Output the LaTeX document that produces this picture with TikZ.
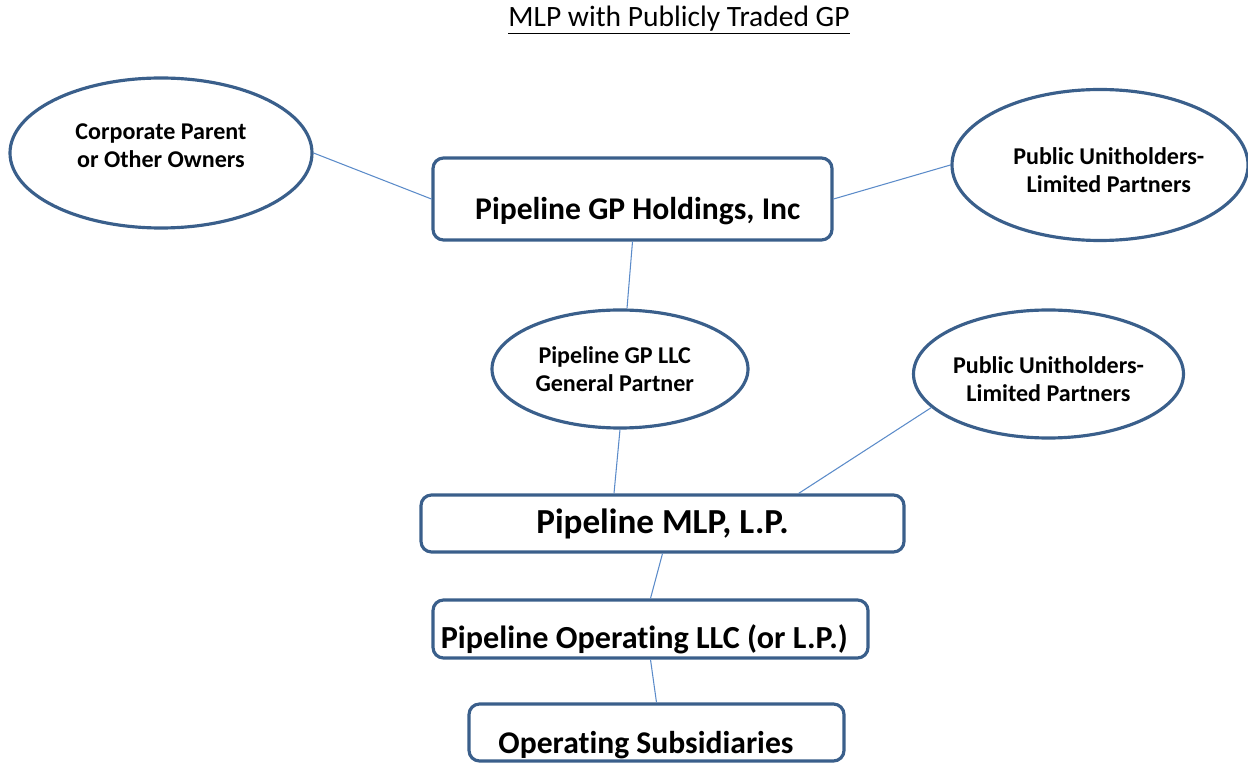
\documentclass[tikz,border=0pt]{standalone}
\usepackage{fontspec}
\setmainfont{Carlito}[Ligatures=NoCommon]
\usepackage{tikz}
\usetikzlibrary{shapes.geometric,calc}
\definecolor{edgeblue}{HTML}{3A5F8B}
\definecolor{linkblue}{HTML}{5B8BC9}

\tikzset{
  entity/.style={draw=edgeblue,line width=1.8pt,rounded corners=6pt,inner sep=0pt,
    font=\bfseries\fontsize{18}{21}\selectfont},
  owner/.style={ellipse,draw=edgeblue,line width=1.8pt,inner sep=0pt,align=center,
    font=\bfseries\fontsize{13.7}{16}\selectfont},
  link/.style={linkblue,line width=0.6pt},
  lowtext/.style={text height=#1,text depth=0pt}
}

\begin{document}
\begin{tikzpicture}[x=0.02cm,y=-0.02cm]
  \useasboundingbox (0,0) rectangle (1248,763);
  \clip (0,0) rectangle (1248,763);
  \node[font=\fontsize{16.8}{20}\selectfont] (title) at (679,20) {\underline{MLP with Publicly Traded GP}};
  % owners
  \node[owner,minimum width=302*0.02cm,minimum height=150*0.02cm] (corp) at (161,153) {Corporate Parent\\or Other Owners\rule[-8pt]{0pt}{8pt}};
  \node[owner,minimum width=296*0.02cm,minimum height=151*0.02cm] (pubtop) at (1100,165) {\hspace*{10pt}\rule{0pt}{15pt}Public Unitholders-\\\hspace*{10pt}Limited Partners};
  \node[owner,minimum width=256*0.02cm,minimum height=118*0.02cm] (gpllc) at (620,369) {Pipeline GP LLC\hspace*{6pt}\null\\General Partner\hspace*{6pt}\null};
  \node[owner,minimum width=267*0.02cm,minimum height=128*0.02cm] (pubmid) at (1048.5,374) {\rule{0pt}{15pt}Public Unitholders-\\Limited Partners};
  % entities
  \node[entity,lowtext=23pt,minimum width=399*0.02cm,minimum height=82*0.02cm] (gph) at (632.5,199) {\hspace{6pt}Pipeline GP Holdings, Inc};
  \node[entity,font=\bfseries\fontsize{20}{24}\selectfont,minimum width=483*0.02cm,minimum height=57*0.02cm] (mlp) at (662.5,523.5) {Pipeline MLP, L.P.};
  \node[entity,font=\bfseries\fontsize{18.3}{21}\selectfont,lowtext=22pt,minimum width=435*0.02cm,minimum height=58*0.02cm] (opllc) at (650.5,629) {Pipeline Operating LLC (or L.P.)\hspace{7pt}\null};
  \node[entity,lowtext=24pt,minimum width=375*0.02cm,minimum height=57*0.02cm] (subs) at (656.5,732.5) {Operating Subsidiaries\hspace{12pt}\null};
  % ownership links
  \draw[link] (corp.east) -- (gph.west);
  \draw[link] (gph.east) -- (pubtop.west);
  \draw[link] (gph.south) -- ($(gpllc.north)+(7,0)$);
  \draw[link] (gpllc.south) -- ($(gpllc.south |- mlp.north)+(-6,0)$);
  \draw[link] (pubmid.196) -- ($(mlp.north west)!0.78!(mlp.north east)$);
  \draw[link] (mlp.south) -- (opllc.north);
  \draw[link] (opllc.south) -- (subs.north);
\end{tikzpicture}
\end{document}
